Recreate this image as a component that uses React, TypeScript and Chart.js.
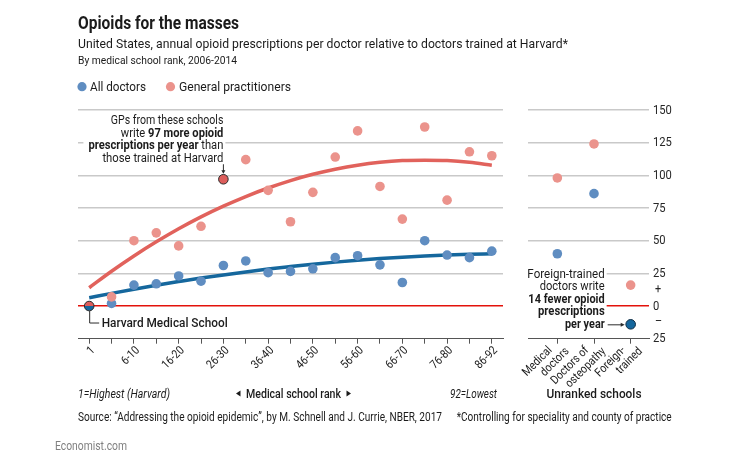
import React, { useEffect, useRef } from 'react';
import { Chart, registerables } from 'chart.js';

Chart.register(...registerables);

// ---------- data ----------
const rankLabels = ['1', '2-5', '6-10', '11-15', '16-20', '21-25', '26-30', '31-35', '36-40', '41-45', '46-50', '51-55', '56-60', '61-65', '66-70', '71-75', '76-80', '81-85', '86-92'];
const shownRankLabels = ['1', '6-10', '16-20', '26-30', '36-40', '46-50', '56-60', '66-70', '76-80', '86-92'];
const allDoctors = [0, 2, 16, 17, 23, 19, 31, 34.5, 25.5, 26.5, 28.5, 37, 38.5, 31.5, 18, 50, 39, 37, 42];
const generalPractitioners = [0, 7, 50, 56, 46, 61, 97, 112, 88.5, 64.5, 87, 114, 134, 91.5, 66.5, 137, 81, 118, 115];
const allDoctorsTrend = [6.4, 9.7, 12.9, 15.9, 18.7, 21.4, 23.8, 26.1, 28.3, 30.2, 32, 33.6, 35, 36.3, 37.4, 38.3, 39, 39.6, 40];
const gpTrend = [14, 26.6, 38.3, 49.1, 59.1, 68.2, 76.4, 83.8, 90.3, 96, 100.8, 104.7, 107.8, 110, 111.3, 111.6, 111.3, 110, 107.8];
const unrankedLabels = [['Medical', 'doctors'], ['Doctors of', 'osteopathy'], ['Foreign-', 'trained']];
const unrankedAllDoctors = [40, 86, -14];
const unrankedGP = [98, 124, 16];
const yMin = -25;
const yMax = 150;
const yStep = 25;

// ---------- styles ----------
const FONT = 'Roboto, "Noto Sans", sans-serif';
const TEXT = '#1b1b1b';
const RED_DOT = '#eb938c';
const BLUE_DOT = '#5f8dc1';
const RED_LINE = '#e1625c';
const BLUE_LINE = '#15679d';
const RED_HI = '#dc5d5b';
const ZERO = '#e3120b';
const GRID = '#c9c9c9';
const AXIS = '#555555';
const OUTLINE = '#2b2b2b';

type Seg = [string, number];
interface TOpts {
  align?: 'left' | 'right' | 'center';
  width?: number;
  squeeze?: number;
  color?: string;
  italic?: boolean;
  rotate?: number;
  baseline?: CanvasTextBaseline;
}

function drawText(ctx: CanvasRenderingContext2D, segs: Seg[], x: number, y: number, size: number, o: TOpts = {}) {
  const fontOf = (w: number) => `${o.italic ? 'italic ' : ''}${w} ${size}px ${FONT}`;
  let natural = 0;
  const widths = segs.map(([t, w]) => {
    ctx.font = fontOf(w);
    const m = ctx.measureText(t).width;
    natural += m;
    return m;
  });
  const s = o.width ? o.width / natural : o.squeeze ?? 0.86;
  const total = natural * s;
  const align = o.align ?? 'left';
  ctx.save();
  ctx.translate(x, y);
  if (o.rotate) ctx.rotate(o.rotate);
  const off = align === 'right' ? -total : align === 'center' ? -total / 2 : 0;
  ctx.translate(off, 0);
  ctx.scale(s, 1);
  ctx.textAlign = 'left';
  ctx.textBaseline = o.baseline ?? 'alphabetic';
  ctx.fillStyle = o.color ?? TEXT;
  let cx = 0;
  segs.forEach(([t, w], i) => {
    ctx.font = fontOf(w);
    ctx.fillText(t, cx, 0);
    cx += widths[i];
  });
  ctx.restore();
  return total;
}

function dot(ctx: CanvasRenderingContext2D, x: number, y: number, r: number, color: string) {
  ctx.beginPath();
  ctx.arc(x, y, r, 0, Math.PI * 2);
  ctx.fillStyle = color;
  ctx.fill();
}

const gridColor = (c: any) => (c.tick.value === 0 ? ZERO : c.tick.value === yMin ? 'rgba(0,0,0,0)' : GRID);
const gridWidth = (c: any) => (c.tick.value === 0 ? 1.5 : 1.5);

const leftDecor = {
  id: 'leftDecor',
  beforeDatasetsDraw(chart: any) {
    const ctx: CanvasRenderingContext2D = chart.ctx;
    const xS = chart.scales.x;
    const yS = chart.scales.y;
    // annotation for 26-30
    const xa = xS.getPixelForValue(6);
    const ya = yS.getPixelForValue(generalPractitioners[6]);
    ctx.save();
    ctx.fillStyle = '#ffffff';
    ctx.fillRect(xa - 140, ya - 66, 142, 52);
    const lh = 12.6;
    const b0 = ya - 55;
    drawText(ctx, [['GPs from these schools', 400]], xa, b0, 12, { align: 'right', width: 112.6 });
    drawText(ctx, [['write ', 400], ['97 more opioid', 700]], xa, b0 + lh, 12, { align: 'right', width: 102.6 });
    drawText(ctx, [['prescriptions per year', 700], [' than', 400]], xa, b0 + 2 * lh, 12, { align: 'right', width: 135 });
    drawText(ctx, [['those trained at Harvard', 400]], xa, b0 + 3 * lh, 12, { align: 'right', width: 121 });
    // arrow
    ctx.strokeStyle = OUTLINE;
    ctx.lineWidth = 1;
    ctx.beginPath();
    ctx.moveTo(xa, ya - 15);
    ctx.lineTo(xa, ya - 7);
    ctx.stroke();
    ctx.beginPath();
    ctx.moveTo(xa - 2, ya - 9);
    ctx.lineTo(xa + 2, ya - 9);
    ctx.lineTo(xa, ya - 5.5);
    ctx.closePath();
    ctx.fillStyle = OUTLINE;
    ctx.fill();
    // Harvard connector
    const x0 = xS.getPixelForValue(0);
    const y0 = yS.getPixelForValue(0);
    ctx.beginPath();
    ctx.moveTo(x0 + 0.5, y0 + 5);
    ctx.lineTo(x0 + 0.5, y0 + 17);
    ctx.lineTo(x0 + 10, y0 + 17);
    ctx.stroke();
    drawText(ctx, [['Harvard Medical School', 500]], x0 + 12.5, y0 + 20.5, 13.5, { width: 126 });
    ctx.restore();
  },
  afterDatasetsDraw(chart: any) {
    const ctx: CanvasRenderingContext2D = chart.ctx;
    const x0 = chart.scales.x.getPixelForValue(0);
    const y0 = chart.scales.y.getPixelForValue(generalPractitioners[0]);
    const r = 4.8;
    ctx.save();
    ctx.beginPath();
    ctx.arc(x0, y0, r, Math.PI, 0);
    ctx.closePath();
    ctx.fillStyle = RED_HI;
    ctx.fill();
    ctx.beginPath();
    ctx.arc(x0, y0, r, 0, Math.PI);
    ctx.closePath();
    ctx.fillStyle = BLUE_LINE;
    ctx.fill();
    ctx.beginPath();
    ctx.arc(x0, y0, r, 0, Math.PI * 2);
    ctx.strokeStyle = OUTLINE;
    ctx.lineWidth = 1;
    ctx.stroke();
    ctx.restore();
  },
  afterDraw(chart: any) {
    const ctx: CanvasRenderingContext2D = chart.ctx;
    const area = chart.chartArea;
    const xS = chart.scales.x;
    const L = area.left;
    ctx.save();
    // titles
    drawText(ctx, [['Opioids for the masses', 700]], L, 29, 19, { width: 161 });
    drawText(ctx, [['United States, annual opioid prescriptions per doctor relative to doctors trained at Harvard*', 400]], L, 48.3, 13.5, { width: 490 });
    drawText(ctx, [['By medical school rank, 2006-2014', 400]], L, 63.5, 11.5, { width: 159 });
    // legend
    dot(ctx, L + 4, 86.7, 4.6, BLUE_DOT);
    drawText(ctx, [['All doctors', 400]], L + 12, 91, 13, { width: 56 });
    dot(ctx, L + 92.5, 86.7, 4.6, RED_DOT);
    drawText(ctx, [['General practitioners', 400]], L + 101, 91, 13, { width: 112 });
    // x tick labels
    rankLabels.forEach((lab, i) => {
      if (!shownRankLabels.includes(lab)) return;
      const x = xS.getPixelForValue(i);
      drawText(ctx, [[lab, 400]], x + 4, area.bottom + 10, 12, { align: 'right', rotate: -Math.PI / 4, baseline: 'middle', squeeze: 0.86 });
    });
    // axis titles
    drawText(ctx, [['1=Highest (Harvard)', 400]], L, 397.5, 12, { width: 92, italic: true });
    drawText(ctx, [['92=Lowest', 400]], area.right - 6, 397.5, 12, { width: 47, italic: true, align: 'right' });
    const cx = (area.left + area.right) / 2 + 3;
    drawText(ctx, [['Medical school rank', 500]], cx, 398, 13.5, { width: 95, align: 'center' });
    ctx.fillStyle = TEXT;
    ctx.beginPath();
    ctx.moveTo(cx - 57.5, 393.5);
    ctx.lineTo(cx - 53, 390.5);
    ctx.lineTo(cx - 53, 396.5);
    ctx.closePath();
    ctx.fill();
    ctx.beginPath();
    ctx.moveTo(cx + 57.5, 393.5);
    ctx.lineTo(cx + 53, 390.5);
    ctx.lineTo(cx + 53, 396.5);
    ctx.closePath();
    ctx.fill();
    // footers
    drawText(ctx, [['Source: \u201cAddressing the opioid epidemic\u201d, by M. Schnell and J. Currie, NBER, 2017', 400]], L, 421, 12, { width: 364 });
    drawText(ctx, [['*Controlling for speciality and county of practice', 400]], 456.7, 421, 12, { width: 215 });
    drawText(ctx, [['Economist.com', 400]], 55, 450, 12, { width: 72, color: '#808080' });
    ctx.restore();
  },
};

const rightDecor = {
  id: 'rightDecor',
  beforeDatasetsDraw(chart: any) {
    const ctx: CanvasRenderingContext2D = chart.ctx;
    const xS = chart.scales.x;
    const yS = chart.scales.y;
    const xf = xS.getPixelForValue(2);
    const yf = yS.getPixelForValue(unrankedAllDoctors[2]);
    ctx.save();
    ctx.fillStyle = '#ffffff';
    ctx.fillRect(xf - 106, yf - 58, 82, 66);
    const xr = xf - 26;
    const lh = 12.4;
    const b0 = yf - 46.3;
    drawText(ctx, [['Foreign-trained', 400]], xr, b0, 12, { align: 'right', width: 77.3 });
    drawText(ctx, [['doctors write', 400]], xr, b0 + lh, 12, { align: 'right', width: 65 });
    drawText(ctx, [['14 fewer opioid', 700]], xr, b0 + 2 * lh, 12, { align: 'right', width: 76.3 });
    drawText(ctx, [['prescriptions', 700]], xr, b0 + 3 * lh, 12, { align: 'right', width: 66.7 });
    drawText(ctx, [['per year', 700]], xr, b0 + 4 * lh, 12, { align: 'right', width: 39.7 });
    // arrow
    ctx.strokeStyle = OUTLINE;
    ctx.lineWidth = 1;
    ctx.beginPath();
    ctx.moveTo(xf - 23, yf + 0.5);
    ctx.lineTo(xf - 9, yf + 0.5);
    ctx.stroke();
    ctx.beginPath();
    ctx.moveTo(xf - 10, yf - 1.5);
    ctx.lineTo(xf - 10, yf + 2.5);
    ctx.lineTo(xf - 6, yf + 0.5);
    ctx.closePath();
    ctx.fillStyle = OUTLINE;
    ctx.fill();
    ctx.restore();
  },
  afterDraw(chart: any) {
    const ctx: CanvasRenderingContext2D = chart.ctx;
    const area = chart.chartArea;
    const xS = chart.scales.x;
    const yS = chart.scales.y;
    ctx.save();
    yS.ticks.forEach((t: any) => {
      const y = yS.getPixelForValue(t.value);
      drawText(ctx, [[String(Math.abs(t.value)), 400]], area.right + 4, y + 0.5, 13, { baseline: 'middle', squeeze: 0.86, color: '#262626' });
    });
    drawText(ctx, [['+', 400]], area.right + 6, yS.getPixelForValue(yStep / 2), 12, { baseline: 'middle', squeeze: 0.9, color: '#262626' });
    drawText(ctx, [['\u2013', 400]], area.right + 6, yS.getPixelForValue(-yStep / 2), 12, { baseline: 'middle', squeeze: 0.9, color: '#262626' });
    unrankedLabels.forEach((lines, i) => {
      const x = xS.getPixelForValue(i);
      drawText(ctx, [[lines[0], 400]], x - 7, area.bottom + 10, 12, { align: 'right', rotate: -Math.PI / 4, baseline: 'middle', squeeze: 0.86 });
      drawText(ctx, [[lines[1], 400]], x + 10, area.bottom + 11, 12, { align: 'right', rotate: -Math.PI / 4, baseline: 'middle', squeeze: 0.86 });
    });
    drawText(ctx, [['Unranked schools', 500]], xS.getPixelForValue(1), 398, 13.5, { width: 95, align: 'center' });
    ctx.restore();
  },
};

export default function App() {
  const leftRef = useRef<HTMLCanvasElement>(null);
  const rightRef = useRef<HTMLCanvasElement>(null);

  useEffect(() => {
    document.body.style.margin = '0';
    const yScale = (position: string) => ({
      position,
      min: yMin,
      max: yMax,
      ticks: { display: false, stepSize: yStep },
      grid: { drawTicks: false, color: gridColor, lineWidth: gridWidth },
      border: { display: false },
    });
    const xGrid = { drawOnChartArea: false, drawTicks: true, tickLength: 5, color: AXIS, lineWidth: 1 };
    const xBorder = { display: true, color: AXIS, width: 1 };

    const left = new Chart(leftRef.current as HTMLCanvasElement, {
      type: 'line',
      data: {
        labels: rankLabels,
        datasets: [
          {
            label: 'GP trend',
            data: gpTrend,
            borderColor: RED_LINE,
            borderWidth: 3.5,
            pointRadius: 0,
            cubicInterpolationMode: 'monotone',
            order: 4,
          },
          {
            label: 'All doctors trend',
            data: allDoctorsTrend,
            borderColor: BLUE_LINE,
            borderWidth: 3.5,
            pointRadius: 0,
            cubicInterpolationMode: 'monotone',
            order: 3,
          },
          {
            label: 'All doctors',
            data: allDoctors,
            showLine: false,
            pointRadius: (c: any) => (c.dataIndex === 0 ? 0 : 4.8),
            pointBackgroundColor: BLUE_DOT,
            pointBorderWidth: 0,
            order: 2,
          },
          {
            label: 'General practitioners',
            data: generalPractitioners,
            showLine: false,
            pointRadius: (c: any) => (c.dataIndex === 0 ? 0 : 4.8),
            pointBackgroundColor: (c: any) => (c.dataIndex === 6 ? RED_HI : RED_DOT),
            pointBorderColor: OUTLINE,
            pointBorderWidth: (c: any) => (c.dataIndex === 6 ? 1 : 0),
            order: 1,
          },
        ],
      } as any,
      options: {
        responsive: false,
        animation: false,
        events: [],
        layout: { padding: { left: 78, right: 247, top: 110, bottom: 111.3 } },
        plugins: { legend: { display: false }, tooltip: { enabled: false } },
        scales: {
          x: { type: 'category', offset: true, grid: xGrid, border: xBorder, ticks: { display: false } },
          y: yScale('left'),
        },
      } as any,
      plugins: [leftDecor],
    });

    const right = new Chart(rightRef.current as HTMLCanvasElement, {
      type: 'scatter',
      data: {
        datasets: [
          {
            label: 'General practitioners',
            data: unrankedGP.map((v, i) => ({ x: i, y: v })),
            pointRadius: 4.8,
            pointBackgroundColor: RED_DOT,
            pointBorderWidth: 0,
            order: 1,
          },
          {
            label: 'All doctors',
            data: unrankedAllDoctors.map((v, i) => ({ x: i, y: v })),
            pointRadius: 4.8,
            pointBackgroundColor: (c: any) => (c.dataIndex === 2 ? BLUE_LINE : BLUE_DOT),
            pointBorderColor: '#0e2c44',
            pointBorderWidth: (c: any) => (c.dataIndex === 2 ? 1 : 0),
            order: 2,
          },
        ],
      } as any,
      options: {
        responsive: false,
        animation: false,
        events: [],
        layout: { padding: { left: 528, right: 101, top: 110, bottom: 111.3 } },
        plugins: { legend: { display: false }, tooltip: { enabled: false } },
        scales: {
          x: {
            type: 'linear',
            min: -0.8,
            max: 2.5,
            afterBuildTicks: (s: any) => {
              s.ticks = unrankedLabels.map((_, i) => ({ value: i }));
            },
            grid: xGrid,
            border: xBorder,
            ticks: { display: false },
          },
          y: yScale('right'),
        },
      } as any,
      plugins: [rightDecor],
    });

    return () => {
      left.destroy();
      right.destroy();
    };
  }, []);

  return (
    <div style={{ position: 'fixed', left: 0, top: 0, width: 750, height: 455, background: '#ffffff', overflow: 'hidden' }}>
      <canvas ref={leftRef} width={750} height={455} style={{ position: 'absolute', left: 0, top: 0 }} />
      <canvas ref={rightRef} width={750} height={455} style={{ position: 'absolute', left: 0, top: 0 }} />
    </div>
  );
}
